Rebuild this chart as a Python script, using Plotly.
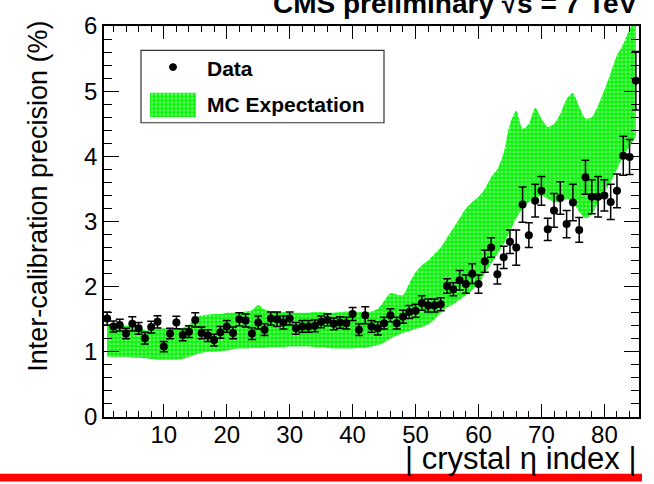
import plotly.graph_objects as go

# |eta| index of the ECAL barrel crystals
eta_index = list(range(1, 86))

# Measured inter-calibration precision (%) and its uncertainty
precision = [
    1.51, 1.39, 1.41, 1.28, 1.43, 1.36, 1.21, 1.38, 1.46, 1.08,
    1.28, 1.45, 1.26, 1.31, 1.49, 1.29, 1.25, 1.18, 1.30, 1.39,
    1.29, 1.50, 1.48, 1.28, 1.45, 1.34, 1.51, 1.50, 1.45, 1.51,
    1.36, 1.39, 1.39, 1.40, 1.46, 1.49, 1.43, 1.45, 1.44, 1.58,
    1.34, 1.56, 1.39, 1.36, 1.44, 1.56, 1.44, 1.54, 1.61, 1.63,
    1.75, 1.71, 1.71, 1.73, 2.01, 1.96, 2.10, 2.04, 2.20, 2.04,
    2.39, 2.60, 2.19, 2.45, 2.69, 2.60, 3.26, 2.79, 3.32, 3.47,
    2.88, 3.17, 3.36, 2.96, 3.29, 2.87, 3.68, 3.38, 3.38, 3.40,
    3.30, 3.47, 4.01, 3.99, 5.16,
]
precision_err = [
    0.10, 0.085, 0.09, 0.08, 0.11, 0.09, 0.09, 0.09, 0.095, 0.08,
    0.08, 0.095, 0.09, 0.09, 0.11, 0.09, 0.09, 0.09, 0.09, 0.09,
    0.09, 0.10, 0.10, 0.09, 0.10, 0.09, 0.10, 0.11, 0.10, 0.10,
    0.09, 0.09, 0.09, 0.09, 0.09, 0.09, 0.09, 0.09, 0.09, 0.10,
    0.09, 0.13, 0.09, 0.10, 0.09, 0.10, 0.09, 0.10, 0.10, 0.10,
    0.11, 0.10, 0.10, 0.10, 0.11, 0.10, 0.15, 0.14, 0.15, 0.14,
    0.17, 0.15, 0.15, 0.17, 0.18, 0.27, 0.27, 0.19, 0.25, 0.22,
    0.17, 0.26, 0.25, 0.21, 0.28, 0.19, 0.26, 0.26, 0.31, 0.24,
    0.27, 0.26, 0.30, 0.27, 0.45,
]

# MC expectation band (lower / upper edge, %)
mc_low = [
    0.93, 0.92, 0.92, 0.92, 0.91, 0.91, 0.90, 0.89, 0.88, 0.88,
    0.88, 0.88, 0.89, 0.92, 0.96, 0.98, 1.00, 1.00, 1.01, 1.02,
    1.04, 1.05, 1.05, 1.06, 1.06, 1.06, 1.07, 1.07, 1.07, 1.08,
    1.08, 1.08, 1.08, 1.07, 1.07, 1.06, 1.05, 1.05, 1.05, 1.05,
    1.06, 1.06, 1.08, 1.10, 1.14, 1.20, 1.25, 1.29, 1.32, 1.35,
    1.38, 1.42, 1.50, 1.60, 1.68, 1.73, 1.80, 1.87, 1.95, 2.05,
    2.20, 2.35, 2.50, 2.65, 2.85, 3.05, 3.20, 3.30, 3.35, 3.40,
    3.35, 3.30, 3.30, 3.35, 3.30, 3.15, 3.05, 3.10, 3.30, 3.45,
    3.60, 3.80, 4.00, 4.15, 4.30,
]
mc_high = [
    1.42, 1.42, 1.41, 1.40, 1.40, 1.38, 1.33, 1.33, 1.35, 1.36,
    1.36, 1.36, 1.37, 1.42, 1.52, 1.56, 1.57, 1.58, 1.58, 1.60,
    1.60, 1.61, 1.62, 1.64, 1.72, 1.65, 1.62, 1.61, 1.61, 1.60,
    1.60, 1.60, 1.60, 1.61, 1.61, 1.60, 1.60, 1.61, 1.62, 1.62,
    1.61, 1.61, 1.62, 1.66, 1.78, 1.90, 1.88, 1.87, 2.05, 2.22,
    2.33, 2.40, 2.50, 2.60, 2.75, 2.90, 3.05, 3.20, 3.30, 3.38,
    3.50, 3.68, 3.80, 4.05, 4.50, 4.70, 4.42, 4.50, 4.75, 4.58,
    4.45, 4.50, 4.65, 4.88, 4.97, 4.76, 4.58, 4.60, 4.78, 5.02,
    5.28, 5.55, 5.72, 5.95, 6.10,
]

FONT = "Liberation Sans, Arial, Helvetica, sans-serif"
GREEN = "#10f510"
PATTERN = dict(shape=".", bgcolor=GREEN, fgcolor="#c8ffc8", size=4, solidity=0.35)

# plot-area geometry in pixels, used to place decorations in paper units
W, H = 654, 484
L, R, T, B = 104, 15, 17, 67
PW, PH = W - L - R, H - T - B


def px(x):
    return (x - L) / PW


def py(y):
    return (H - B - y) / PH


fig = go.Figure()

fig.add_trace(go.Scatter(
    x=eta_index, y=mc_low, mode="lines",
    line=dict(width=0, color=GREEN, shape="spline", smoothing=0.6),
    showlegend=False, hoverinfo="skip",
))
fig.add_trace(go.Scatter(
    x=eta_index, y=mc_high, mode="lines", fill="tonexty",
    fillcolor=GREEN, fillpattern=PATTERN,
    line=dict(width=0, color=GREEN, shape="spline", smoothing=0.6),
    name="MC Expectation", showlegend=False,
))
fig.add_trace(go.Scatter(
    x=eta_index, y=precision, mode="markers",
    marker=dict(color="black", size=8, symbol="circle"),
    error_y=dict(type="data", array=precision_err, color="black",
                 thickness=1.5, width=4),
    name="Data", showlegend=False,
))

# legend key for the MC band, drawn on its own small axes
fig.add_trace(go.Scatter(
    x=[0, 1, 1, 0, 0], y=[0, 0, 1, 1, 0], mode="lines", fill="toself",
    fillcolor=GREEN, fillpattern=PATTERN, line=dict(width=0),
    xaxis="x2", yaxis="y2", showlegend=False, hoverinfo="skip",
))

axis_common = dict(
    showgrid=False, zeroline=False, showline=True, linecolor="black",
    linewidth=1.5, mirror="ticks", ticks="inside", tickcolor="black",
    tickwidth=1.2, tickfont=dict(family=FONT, size=24, color="black"),
)

fig.update_layout(
    width=W, height=H,
    margin=dict(l=L, r=R, t=T, b=B),
    paper_bgcolor="white", plot_bgcolor="white",
    showlegend=False,
    xaxis=dict(range=[0.5, 85.5], tick0=0, dtick=10, ticklen=13,
               ticklabelstandoff=-5,
               minor=dict(dtick=2, ticklen=6, ticks="inside",
                          tickcolor="black", tickwidth=1.2),
               **axis_common),
    yaxis=dict(range=[0, 6], tick0=0, dtick=1, ticklen=15,
               minor=dict(dtick=0.2, ticklen=8, ticks="inside",
                          tickcolor="black", tickwidth=1.2),
               **axis_common),
    xaxis2=dict(domain=[px(150), px(196)], range=[0, 1], visible=False,
                anchor="y2"),
    yaxis2=dict(domain=[py(110), py(85)], range=[0, 1], visible=False,
                anchor="x2"),
)

shapes = [
    # legend frame
    dict(type="rect", xref="paper", yref="paper",
         x0=px(141), x1=px(384), y0=py(116), y1=py(42),
         line=dict(color="#333333", width=1.2), fillcolor="rgba(0,0,0,0)",
         layer="above"),
    # legend marker for the data points
    dict(type="circle", xref="paper", yref="paper",
         x0=px(169.5), x1=px(176.5), y0=py(62.5), y1=py(55.5),
         line=dict(color="black", width=1), fillcolor="black"),
    # red rule under the figure
    dict(type="rect", xref="paper", yref="paper",
         x0=px(0), x1=px(642), y0=py(483), y1=py(475),
         line=dict(width=0), fillcolor="#ff0000"),
]

annotations = [
    dict(text="<b>Data</b>", x=px(205), y=py(60), xref="paper", yref="paper",
         xanchor="left", yanchor="middle", showarrow=False,
         font=dict(family=FONT, size=21, color="black")),
    dict(text="<b>MC Expectation</b>", x=px(205), y=py(97), xref="paper",
         yref="paper", xanchor="left", yanchor="middle", showarrow=False,
         font=dict(family=FONT, size=21, color="black")),
    dict(text="<b>CMS preliminary √s = 7 TeV</b>", x=px(640), y=py(12),
         xref="paper", yref="paper", xanchor="right", yanchor="bottom",
         showarrow=False, font=dict(family=FONT, size=28, color="black")),
    dict(text="Inter-calibration precision (%)", textangle=-90,
         x=px(38), y=py(10), xref="paper", yref="paper",
         xanchor="center", yanchor="top", showarrow=False,
         font=dict(family=FONT, size=27, color="black")),
    dict(text="| crystal η index |", x=px(638), y=py(459), xref="paper",
         yref="paper", xanchor="right", yanchor="middle", showarrow=False,
         font=dict(family=FONT, size=31, color="black")),
]

fig.update_layout(shapes=shapes, annotations=annotations)

fig.write_html("out.html")
